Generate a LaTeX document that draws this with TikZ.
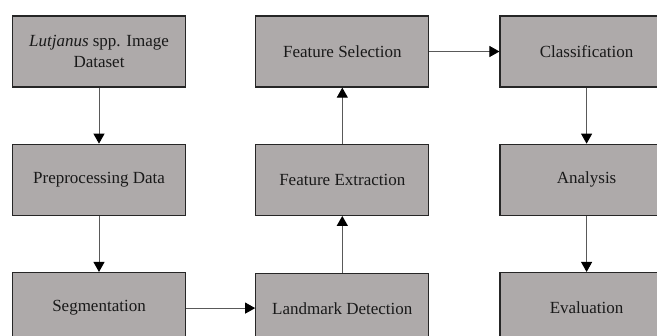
\documentclass[tikz,border=0pt]{standalone}
\usepackage{fontspec}
\setmainfont{Liberation Serif}
\usetikzlibrary{positioning,
	arrows.meta}
\definecolor{boxgray}{RGB}{174,170,170}
\tikzstyle{stage}=[rectangle, draw=black!85, line width=1.3pt, fill=boxgray,
	minimum width=173pt, minimum height=71pt, inner sep=0, align=center,
	text=black!90, font=\fontsize{17}{21}\selectfont]
\tikzstyle{sarrow}=[-{Triangle[length=10pt, width=11pt, color=black]},
	draw=black!65, line width=0.9pt]

\begin{document}
\begin{tikzpicture}[x=1pt, y=1pt, node distance=56pt and 69pt]
            \useasboundingbox (0,0) rectangle (657,-336);
            \node[stage] (data) at (99,-51.5) {\textit{Lutjanus} spp. Image\\Dataset};
            \node[stage, below=of data] (prep) {Preprocessing Data};
            \node[stage, below=of prep] (seg) {Segmentation};
            \node[stage, right=of seg, yshift=-1pt] (land) {Landmark Detection};
            \node[stage, right=of prep] (extr) {Feature Extraction};
            \node[stage, right=of data] (sel) {Feature Selection};
            \node[stage, right=70pt of sel] (clas) {Classification};
            \node[stage, below=of clas] (anal) {Analysis};
            \node[stage, below=of anal] (eval) {Evaluation};
            \draw[sarrow] (data) to (prep);
            \draw[sarrow] (prep) to (seg);
            \draw[sarrow] (seg.east) to (seg.east -| land.west);
            \draw[sarrow, line width=1.4pt] (land) to (extr);
            \draw[sarrow] (extr) to (sel);
            \draw[sarrow] (sel) to (clas);
            \draw[sarrow] (clas) to (anal);
            \draw[sarrow] (anal) to (eval);
        \end{tikzpicture}
\end{document}
